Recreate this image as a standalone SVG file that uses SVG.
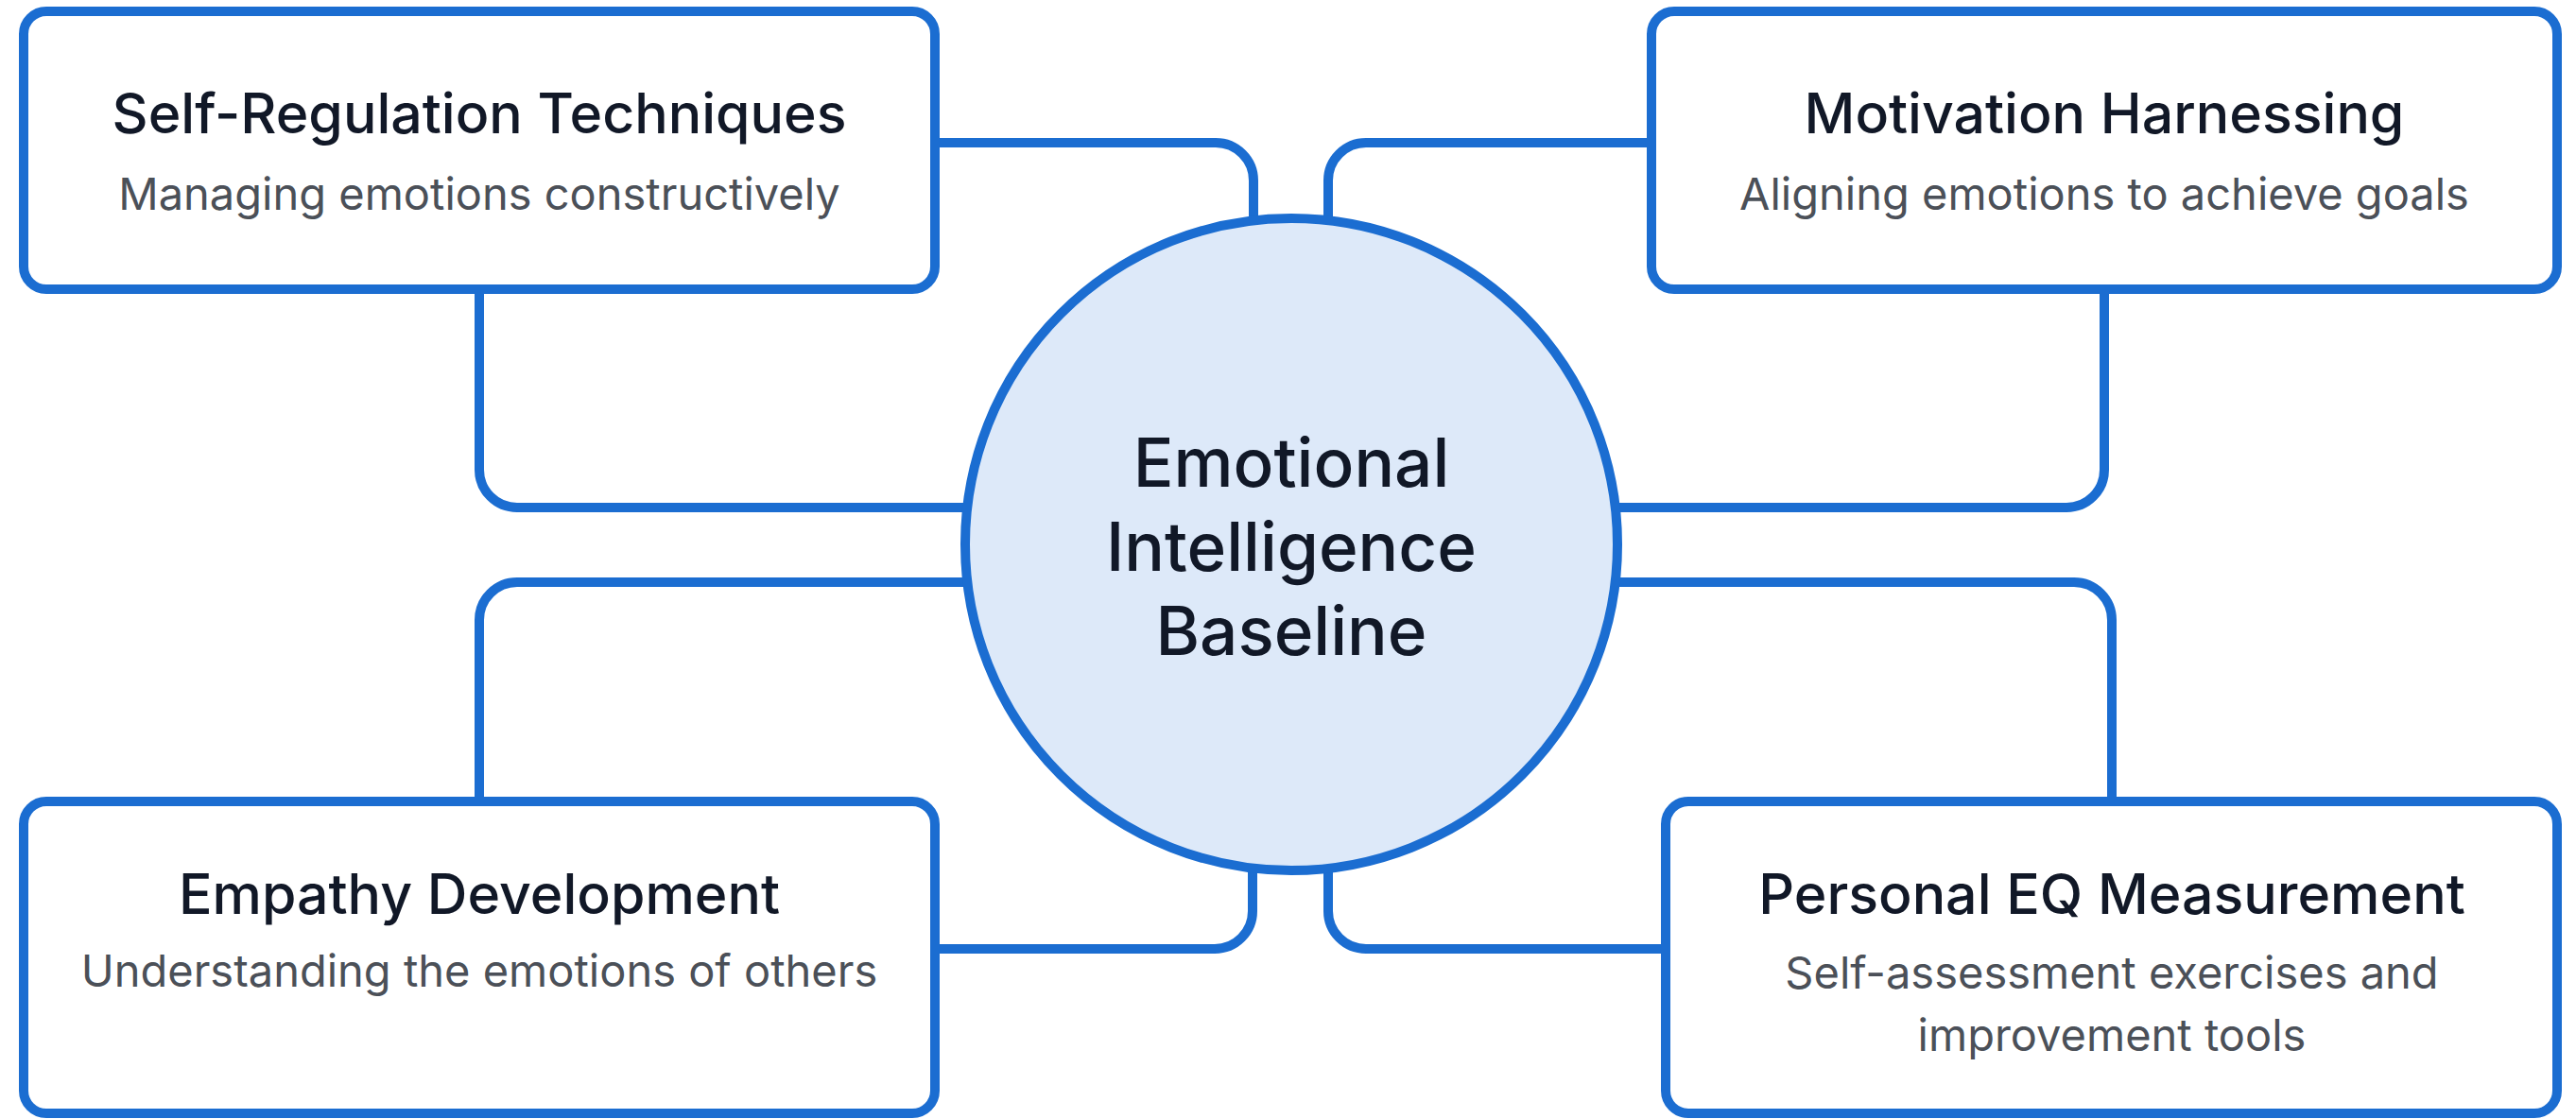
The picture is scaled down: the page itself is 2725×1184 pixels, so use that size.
<svg xmlns="http://www.w3.org/2000/svg" width="2725" height="1184" viewBox="0 0 2725 1184">
  <style>
    .box { fill: #ffffff; stroke: #1b6dd1; stroke-width: 10; }
    .hub { fill: #dde9f9; stroke: #1b6dd1; stroke-width: 10; }
    .conn { fill: none; stroke: #1b6dd1; stroke-width: 10; }
    .title { font-family: Inter, "Liberation Sans", sans-serif; font-size: 59px; font-weight: 500; fill: #111827; text-anchor: middle; }
    .sub { font-family: Inter, "Liberation Sans", sans-serif; font-size: 47px; font-weight: 400; fill: #4b5058; text-anchor: middle; }
    .hubtext { font-family: Inter, "Liberation Sans", sans-serif; font-size: 71px; font-weight: 500; fill: #111827; text-anchor: middle; }
  </style>
  <rect width="2725" height="1184" fill="#ffffff"/>
  <g id="connectors">
    <path class="conn" d="M 989 151 H 1286 A 40 40 0 0 1 1326 191 V 240"/>
    <path class="conn" d="M 507 306 V 497 A 40 40 0 0 0 547 537 H 1030"/>
    <path class="conn" d="M 1747 151 H 1445 A 40 40 0 0 0 1405 191 V 240"/>
    <path class="conn" d="M 2226 306 V 497 A 40 40 0 0 1 2186 537 H 1700"/>
    <path class="conn" d="M 1030 616 H 547 A 40 40 0 0 0 507 656 V 848"/>
    <path class="conn" d="M 989 1004 H 1285 A 40 40 0 0 0 1325 964 V 910"/>
    <path class="conn" d="M 1700 616 H 2194 A 40 40 0 0 1 2234 656 V 848"/>
    <path class="conn" d="M 1762 1004 H 1445 A 40 40 0 0 1 1405 964 V 910"/>
  </g>
  <g id="hub">
    <circle class="hub" cx="1366" cy="576" r="345"/>
    <text class="hubtext" x="1366" y="515">Emotional</text>
    <text class="hubtext" x="1366" y="604">Intelligence</text>
    <text class="hubtext" x="1366" y="693">Baseline</text>
  </g>
  <g id="self-regulation">
    <rect class="box" x="25" y="12" width="964" height="294" rx="24"/>
    <text class="title" x="507" y="141">Self-Regulation Techniques</text>
    <text class="sub" x="507" y="222">Managing emotions constructively</text>
  </g>
  <g id="motivation">
    <rect class="box" x="1747" y="12" width="958" height="294" rx="24"/>
    <text class="title" x="2226" y="141">Motivation Harnessing</text>
    <text class="sub" x="2226" y="222">Aligning emotions to achieve goals</text>
  </g>
  <g id="empathy">
    <rect class="box" x="25" y="848" width="964" height="330" rx="24"/>
    <text class="title" x="507" y="967">Empathy Development</text>
    <text class="sub" x="507" y="1044">Understanding the emotions of others</text>
  </g>
  <g id="eq-measurement">
    <rect class="box" x="1762" y="848" width="943" height="330" rx="24"/>
    <text class="title" x="2234" y="967">Personal EQ Measurement</text>
    <text class="sub" x="2234" y="1046">Self-assessment exercises and</text>
    <text class="sub" x="2234" y="1112">improvement tools</text>
  </g>
</svg>
